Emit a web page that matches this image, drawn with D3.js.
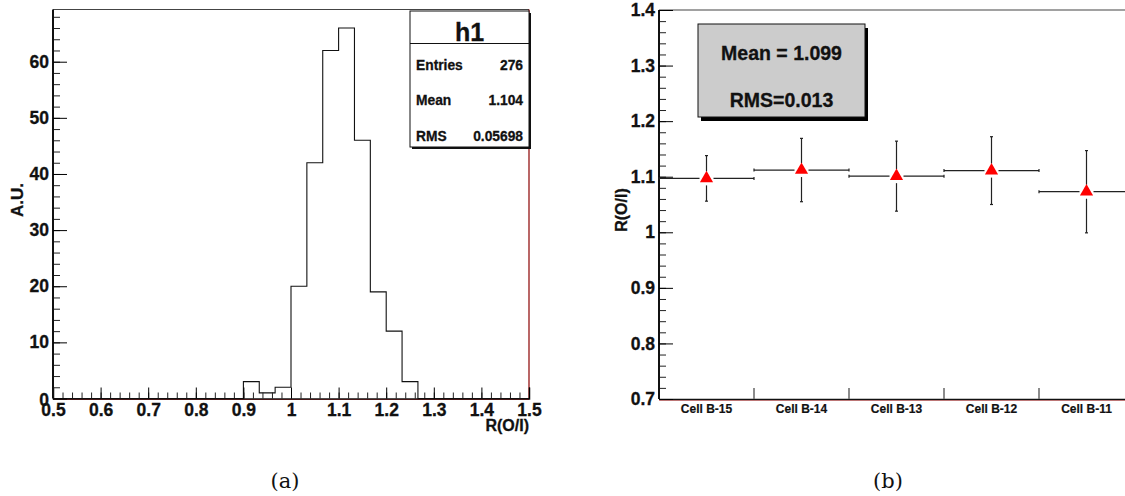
<!DOCTYPE html>
<html><head><meta charset="utf-8">
<script src="https://cdn.jsdelivr.net/npm/d3@7"></script>
<style>body{margin:0;background:#fff}svg{display:block}</style>
</head><body><svg id="c" width="1125" height="496"></svg>
<script>
// ---- data ----
const histLow = 0.5, histHigh = 1.5, nBins = 30;
const histCounts = [0,0,0,0,0,0,0,0,0,0,0,0,3,1,2,20,42,62,66,46,19,12,3,0,0,0,0,0,0,0];
const histXTicks = [0.5,0.6,0.7,0.8,0.9,1,1.1,1.2,1.3,1.4,1.5];
const histYTicks = [0,10,20,30,40,50,60];
const statsRows = [["Entries","276"],["Mean","1.104"],["RMS","0.05698"]];
const cells = ["Cell B-15","Cell B-14","Cell B-13","Cell B-12","Cell B-11"];
const ratioValues = [1.097,1.112,1.101,1.111,1.073];
const ratioErrors = [0.041,0.057,0.063,0.061,0.074];
const ratioYTicks = [0.7,0.8,0.9,1,1.1,1.2,1.3,1.4];
const summaryLines = ["Mean = 1.099","RMS=0.013"];

const FONT = "'Liberation Sans', Arial, sans-serif";
const TICKFS = 17.5;
const svg = d3.select("#c");
svg.append("rect").attr("width",1125).attr("height",496).attr("fill","#fff");

function styleText(sel, fs){
  sel.attr("fill","#111").attr("stroke","#111").attr("stroke-width",0.3)
     .style("font-size",fs+"px").style("font-family",FONT).style("font-weight","bold");
}

// ---------- Left panel ----------
const L = {x0:53,x1:529,y0:9.5,y1:398.5};
const xL = d3.scaleLinear([histLow,histHigh],[L.x0,L.x1]);
const yL = d3.scaleLinear([0,69.3],[L.y1,L.y0]);
const gL = svg.append("g");
gL.append("line").attr("x1",L.x0).attr("x2",L.x1).attr("y1",L.y0).attr("y2",L.y0).attr("stroke","#444").attr("stroke-width",1.2);
gL.append("line").attr("x1",L.x1).attr("x2",L.x1).attr("y1",L.y0).attr("y2",L.y1).attr("stroke","#8b0000").attr("stroke-width",1.2);
gL.append("line").attr("x1",L.x0).attr("x2",L.x1).attr("y1",L.y1+1).attr("y2",L.y1+1).attr("stroke","#e33").attr("stroke-width",1);
// histogram
const pts=[];
histCounts.forEach((c,i)=>{const a=histLow+i*(histHigh-histLow)/nBins,b=histLow+(i+1)*(histHigh-histLow)/nBins;pts.push([a,c],[b,c]);});
gL.append("path").attr("d",d3.line().x(d=>xL(d[0])).y(d=>yL(d[1]))(pts)).attr("fill","none").attr("stroke","#111").attr("stroke-width",1.1);
// axes
const minorX = d3.range(0,51).map(i=>histLow+i*0.02);
gL.append("g").attr("transform",`translate(0,${L.y1})`).call(d3.axisBottom(xL).tickValues(minorX).tickSize(-6).tickFormat("")).call(g=>g.select(".domain").remove()).selectAll("line").attr("stroke","#222");
const axXL = gL.append("g").attr("transform",`translate(0,${L.y1})`).call(d3.axisBottom(xL).tickValues(histXTicks).tickSize(-11).tickPadding(5).tickFormat(d3.format("")));
axXL.select(".domain").attr("stroke","#111").attr("stroke-width",1.5);
styleText(axXL.selectAll("text"), TICKFS);
const minorY = d3.range(0,35).map(i=>i*2);
gL.append("g").attr("transform",`translate(${L.x0},0)`).call(d3.axisLeft(yL).tickValues(minorY).tickSize(-7).tickFormat("")).call(g=>g.select(".domain").remove()).selectAll("line").attr("stroke","#222");
const axYL = gL.append("g").attr("transform",`translate(${L.x0},0)`).call(d3.axisLeft(yL).tickValues(histYTicks).tickSize(-14).tickPadding(4));
axYL.select(".domain").attr("d",`M0,${L.y0}V${L.y1}`).attr("stroke","#111").attr("stroke-width",2);
styleText(axYL.selectAll("text"), TICKFS);
axYL.selectAll("text").filter(d=>d===0).attr("dy","0.4em");
// titles
styleText(gL.append("text").attr("x",L.x1).attr("y",431).attr("text-anchor","end").text("R(O/I)"), 16);
styleText(gL.append("text").attr("transform","translate(23,200) rotate(-90)").attr("text-anchor","middle").text("A.U."), 17);
// stats box
const sb={x:410,y:11,w:119,h:136};
gL.append("rect").attr("x",sb.x+2).attr("y",sb.y+2).attr("width",sb.w).attr("height",sb.h).attr("fill","#111");
gL.append("rect").attr("x",sb.x).attr("y",sb.y).attr("width",sb.w).attr("height",sb.h).attr("fill","#fff").attr("stroke","#111").attr("stroke-width",1);
gL.append("line").attr("x1",sb.x).attr("x2",sb.x+sb.w).attr("y1",43.5).attr("y2",43.5).attr("stroke","#111");
styleText(gL.append("text").attr("x",sb.x+sb.w/2).attr("y",41).attr("text-anchor","middle").text("h1"), 25);
statsRows.forEach((r,i)=>{
  const y=70+i*35.3;
  styleText(gL.append("text").attr("x",416).attr("y",y).text(r[0]), 13.8);
  styleText(gL.append("text").attr("x",523).attr("y",y).attr("text-anchor","end").text(r[1]), 13.8);
});

// ---------- Right panel ----------
const R = {x0:659,x1:1134,y0:10,y1:399};
const xR = d3.scaleBand(cells,[R.x0,R.x1]).padding(0);
const yR = d3.scaleLinear([0.7,1.4],[R.y1,R.y0]);
const gR = svg.append("g");
gR.append("line").attr("x1",R.x0).attr("x2",R.x1).attr("y1",R.y0).attr("y2",R.y0).attr("stroke","#444").attr("stroke-width",1.2);
gR.append("line").attr("x1",R.x0).attr("x2",R.x1).attr("y1",R.y1+1).attr("y2",R.y1+1).attr("stroke","#e33").attr("stroke-width",1);
const axXR = gR.append("g").attr("transform",`translate(0,${R.y1})`).call(d3.axisBottom(xR).tickSize(0).tickPadding(5));
axXR.select(".domain").attr("stroke","#111").attr("stroke-width",1.5);
styleText(axXR.selectAll("text"), 12);
axXR.selectAll("text").attr("stroke-width",0.2);
const bounds = cells.slice(1).map(c=>xR(c));
gR.selectAll(".bt").data(bounds).join("line").attr("x1",d=>d).attr("x2",d=>d).attr("y1",R.y1).attr("y2",R.y1-11).attr("stroke","#666").attr("stroke-width",1.5);
const minorYR = d3.range(0,36).map(i=>0.7+i*0.02);
gR.append("g").attr("transform",`translate(${R.x0},0)`).call(d3.axisLeft(yR).tickValues(minorYR).tickSize(-7).tickFormat("")).call(g=>g.select(".domain").remove()).selectAll("line").attr("stroke","#222");
const axYR = gR.append("g").attr("transform",`translate(${R.x0},0)`).call(d3.axisLeft(yR).tickValues(ratioYTicks).tickSize(-14).tickPadding(4).tickFormat(d3.format("")));
axYR.select(".domain").attr("d",`M0,${R.y0}V${R.y1}`).attr("stroke","#111").attr("stroke-width",2);
styleText(axYR.selectAll("text"), TICKFS);
styleText(gR.append("text").attr("transform","translate(627,210) rotate(-90)").attr("text-anchor","middle").text("R(O/I)"), 16);
// points
const gap=7;
cells.forEach((c,i)=>{
  const bx=xR(c), bw=xR.bandwidth(), cx=bx+bw/2, cy=yR(ratioValues[i]);
  const yt=yR(ratioValues[i]+ratioErrors[i]), yb=yR(ratioValues[i]-ratioErrors[i]);
  const g=gR.append("g").attr("stroke","#222").attr("stroke-width",1.2);
  g.append("line").attr("x1",bx).attr("x2",cx-gap).attr("y1",cy).attr("y2",cy);
  g.append("line").attr("x1",cx+gap).attr("x2",bx+bw).attr("y1",cy).attr("y2",cy);
  g.append("line").attr("x1",bx).attr("x2",bx).attr("y1",cy-1.5).attr("y2",cy+1.5);
  g.append("line").attr("x1",bx+bw).attr("x2",bx+bw).attr("y1",cy-1.5).attr("y2",cy+1.5);
  g.append("line").attr("x1",cx).attr("x2",cx).attr("y1",yt).attr("y2",cy-gap);
  g.append("line").attr("x1",cx).attr("x2",cx).attr("y1",cy+gap).attr("y2",yb);
  g.append("line").attr("x1",cx-1.5).attr("x2",cx+1.5).attr("y1",yt).attr("y2",yt);
  g.append("line").attr("x1",cx-1.5).attr("x2",cx+1.5).attr("y1",yb).attr("y2",yb);
  gR.append("path").attr("d",d3.symbol(d3.symbolTriangle,75)()).attr("transform",`translate(${cx},${cy})`).attr("fill","#ff0000");
});
// summary box
const bb={x:698,y:24,w:167,h:93};
gR.append("rect").attr("x",bb.x+3).attr("y",bb.y+4).attr("width",bb.w).attr("height",bb.h).attr("fill","#000");
gR.append("rect").attr("x",bb.x).attr("y",bb.y).attr("width",bb.w).attr("height",bb.h).attr("fill","#cccccc").attr("stroke","#111").attr("stroke-width",1);
summaryLines.forEach((t,i)=>{
  styleText(gR.append("text").attr("x",bb.x+bb.w/2).attr("y",60+i*47).attr("text-anchor","middle").text(t), 19.5);
});

// captions
svg.append("text").attr("x",285).attr("y",488).attr("text-anchor","middle").style("font-size","21px").style("font-weight","normal").style("font-family","'DejaVu Serif','Liberation Serif', serif").attr("fill","#111").text("(a)");
svg.append("text").attr("x",888).attr("y",488).attr("text-anchor","middle").style("font-size","21px").style("font-weight","normal").style("font-family","'DejaVu Serif','Liberation Serif', serif").attr("fill","#111").text("(b)");
</script></body></html>
